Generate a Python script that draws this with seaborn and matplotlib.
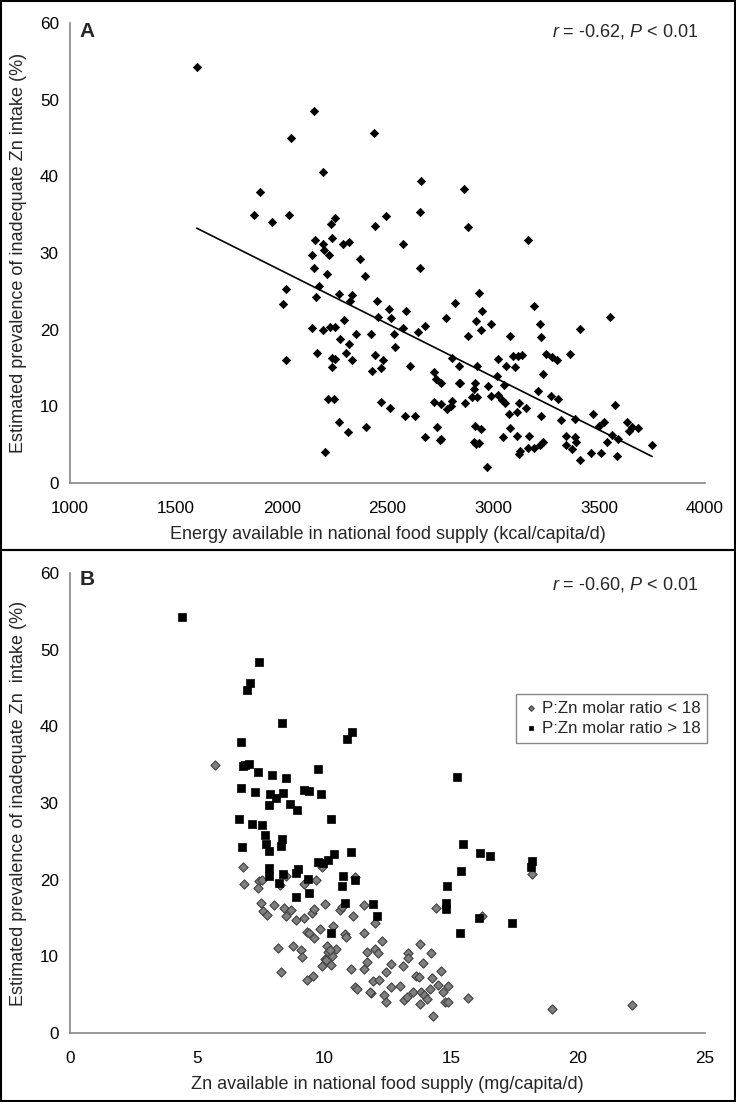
import numpy as np
import pandas as pd
import matplotlib.pyplot as plt
import seaborn as sns
from matplotlib.patches import Rectangle

# === Panel A data: energy supply vs prevalence ===
energy_kcal = [
    1599, 2151, 2434, 2043, 2196, 2659, 2860, 1897, 1870, 2037, 1955, 2494, 2653, 2250, 2231,
    2440, 2882, 3165, 2157, 2194, 2236, 2289, 2320, 2572, 2143, 2198, 2223, 2372, 2155, 2215,
    2393, 2653, 2176, 2019, 2164, 2269, 2331, 2322, 2006, 2450, 2934, 2818, 2508, 2457, 2587,
    2516, 3192, 2948, 2293, 2775, 2919, 2990, 2678, 2571, 2942, 3220, 3549, 2141, 2194, 2227,
    2254, 2533, 2643, 3408, 2421, 2349, 2277, 3223, 2882, 3081, 2318, 2537, 2302, 2166, 2019,
    2236, 2250, 2331, 2440, 2481, 2238, 2426, 2467, 2607, 2806, 2837, 2922, 3023, 3093, 3116,
    3136, 3062, 3103, 3250, 3277, 3302, 3362, 3235, 2722, 2727, 2754, 2837, 2843, 2913, 2977,
    3016, 3052, 2909, 3212, 3271, 3304, 2924, 2990, 3023, 2899, 3042, 2217, 2246, 2469, 2510,
    2722, 2754, 2806, 2802, 2783, 2868, 3054, 3120, 3153, 3114, 3074, 3573, 3225, 3384, 3471,
    3322, 2582, 2632, 3525, 3630, 3498, 3654, 3685, 3640, 2271, 2397, 2734, 2913, 2942, 2314,
    3077, 2678, 2749, 2752, 3046, 3114, 3170, 3341, 3384, 3391, 3562, 3589, 3539, 3750, 2907,
    2934, 2920, 3341, 3374, 3235, 3219, 3194, 3165, 3126, 3120, 3461, 3508, 3583, 3409, 2205,
    2968,
]
prevalence_a = [
    54.2, 48.5, 45.7, 45.0, 40.6, 39.4, 38.3, 38.0, 35.0, 34.9, 34.1, 34.8, 35.3, 34.6, 33.8,
    33.5, 33.4, 31.7, 31.7, 31.2, 32.0, 31.2, 31.4, 31.2, 29.8, 30.4, 29.8, 29.2, 28.0, 27.3,
    27.0, 28.0, 25.7, 25.3, 24.3, 24.6, 24.5, 23.7, 23.3, 23.7, 24.8, 23.5, 22.7, 21.6, 22.5,
    21.5, 23.1, 22.4, 21.3, 21.5, 21.1, 20.8, 20.5, 20.2, 20.0, 20.7, 21.7, 20.2, 19.9, 20.4,
    20.4, 19.5, 19.7, 20.1, 19.4, 19.4, 18.8, 19.1, 19.2, 19.2, 18.1, 17.8, 16.9, 16.9, 16.1,
    16.3, 16.2, 16.0, 16.7, 16.0, 15.1, 14.6, 15.0, 15.3, 16.3, 15.2, 15.3, 16.2, 16.6, 16.6,
    16.7, 15.3, 15.1, 16.8, 16.4, 16.1, 16.8, 14.2, 14.5, 13.6, 13.1, 13.1, 13.1, 13.1, 12.7,
    14.0, 12.8, 12.3, 12.0, 11.3, 11.0, 11.2, 11.3, 11.5, 11.2, 10.8, 10.9, 10.9, 10.6, 9.8,
    10.6, 10.3, 10.7, 10.0, 9.6, 10.5, 10.5, 10.4, 9.8, 9.2, 9.0, 10.2, 8.7, 8.3, 9.0,
    8.2, 8.8, 8.8, 8.0, 8.0, 7.4, 7.3, 7.2, 6.8, 7.9, 7.3, 7.3, 7.4, 7.0, 6.7,
    7.2, 6.0, 5.6, 5.8, 6.0, 6.1, 6.1, 6.1, 6.0, 5.4, 6.2, 5.8, 5.4, 4.9, 5.4,
    5.2, 5.1, 5.0, 4.5, 5.3, 5.0, 4.6, 4.6, 4.2, 3.8, 3.9, 3.9, 3.5, 3.0, 4.0,
    2.1,
]

# === Panel B data: Zn supply vs prevalence, split by P:Zn molar ratio ===
zn_low = [
    5.69, 6.81, 6.84, 7.45, 7.54, 7.39, 9.93, 9.68, 9.20, 8.49, 8.25, 11.21, 18.20, 7.51, 8.03,
    7.58, 7.76, 8.42, 8.69, 8.49, 8.88, 9.20, 9.54, 9.61, 10.03, 10.63, 10.70, 11.58, 11.15, 11.99,
    14.41, 16.21, 9.34, 9.41, 9.85, 9.61, 10.36, 10.82, 11.58, 12.29, 8.17, 8.76, 9.10, 9.15, 10.10,
    10.17, 10.46, 10.32, 10.02, 9.92, 10.29, 10.85, 11.70, 12.00, 12.12, 11.68, 11.56, 11.05, 12.62, 13.11,
    13.29, 13.31, 13.79, 14.21, 13.89, 12.45, 11.92, 12.16, 11.85, 11.80, 12.36, 12.45, 12.63, 13.01, 13.14,
    13.28, 13.50, 13.63, 13.74, 13.77, 13.82, 13.94, 14.06, 14.19, 14.26, 14.31, 14.50, 14.62, 14.69, 14.75,
    14.87, 14.89, 15.65, 18.96, 22.11, 9.34, 9.56, 8.29, 11.22, 11.29, 10.24, 10.07,
]
prev_low = [
    34.9, 21.6, 19.5, 19.8, 19.9, 18.9, 21.7, 20.0, 19.5, 20.5, 19.3, 20.3, 20.8, 16.9, 16.7,
    15.9, 15.4, 16.3, 16.1, 15.3, 14.7, 15.0, 15.6, 16.2, 16.8, 16.1, 16.4, 16.7, 15.3, 14.4,
    16.3, 15.3, 13.2, 13.1, 13.6, 12.4, 14.0, 12.9, 13.0, 12.0, 11.1, 11.3, 10.8, 9.9, 11.3,
    10.6, 11.0, 10.1, 9.7, 8.8, 8.9, 12.5, 10.6, 10.9, 10.5, 9.3, 8.4, 8.4, 9.0, 8.7,
    10.4, 9.8, 11.6, 10.5, 9.1, 8.0, 6.8, 6.9, 5.2, 5.4, 5.0, 4.0, 6.0, 6.1, 4.3,
    4.7, 5.3, 7.5, 7.3, 3.8, 5.4, 5.0, 4.5, 5.8, 7.2, 2.2, 6.3, 8.1, 5.3, 4.1,
    6.1, 4.0, 4.6, 3.1, 3.6, 6.9, 7.4, 8.0, 6.0, 5.7, 10.8, 9.5,
]
zn_high = [
    4.40, 7.44, 7.08, 6.98, 8.35, 11.12, 10.90, 6.74, 7.05, 6.81, 6.90, 7.39, 9.75, 7.95, 8.49,
    15.23, 6.72, 7.30, 7.89, 8.39, 8.12, 9.20, 9.41, 9.88, 7.83, 8.68, 8.93, 6.66, 10.29, 7.18,
    7.57, 7.67, 8.35, 7.71, 8.32, 6.77, 7.83, 15.47, 11.07, 16.16, 16.52, 10.39, 9.78, 9.98, 10.15,
    18.20, 18.15, 7.83, 7.83, 8.39, 8.91, 8.98, 9.37, 10.75, 11.24, 15.40, 8.22, 10.70, 9.41, 14.86,
    8.88, 10.82, 11.92, 14.79, 14.79, 12.07, 16.11, 17.40, 10.29, 15.37,
]
prev_high = [
    54.2, 48.4, 45.6, 44.8, 40.5, 39.3, 38.3, 37.9, 35.1, 34.8, 34.9, 34.0, 34.4, 33.7, 33.3,
    33.4, 31.9, 31.4, 31.2, 31.3, 30.6, 31.7, 31.6, 31.2, 29.7, 29.9, 29.1, 27.9, 27.9, 27.2,
    27.1, 25.8, 25.3, 24.7, 24.4, 24.3, 23.8, 24.7, 23.6, 23.5, 23.1, 23.4, 22.3, 22.2, 22.6,
    22.4, 21.7, 21.5, 20.5, 20.7, 20.9, 21.4, 20.1, 20.5, 19.9, 21.1, 19.6, 19.2, 18.3, 19.2,
    17.7, 16.9, 16.8, 16.9, 16.2, 15.3, 15.0, 14.3, 13.1, 13.1,
]

df_a = pd.DataFrame({"energy": energy_kcal, "prev": prevalence_a})

# === Style ===
sns.set_style("white")
plt.rcParams['font.family'] = ['Liberation Sans', 'DejaVu Sans']
plt.rcParams['mathtext.fontset'] = 'custom'
plt.rcParams['mathtext.rm'] = 'Liberation Sans'
plt.rcParams['mathtext.it'] = 'Liberation Sans:italic'

W, H = 736, 1102
fig = plt.figure(figsize=(W / 100, H / 100), dpi=100)

def px_axes(left, top, right, bottom):
    return fig.add_axes([left / W, 1 - bottom / H, (right - left) / W, (bottom - top) / H])

ax_a = px_axes(70, 23, 705, 483)
ax_b = px_axes(70, 573, 705, 1033)

spine_col = "#888888"
tick_fs = 12.3
label_fs = 13

def style_axes(ax):
    for s in ["top", "right"]:
        ax.spines[s].set_visible(False)
    for s in ["left", "bottom"]:
        ax.spines[s].set_color(spine_col)
        ax.spines[s].set_linewidth(1.2)
    ax.tick_params(length=0, labelsize=tick_fs, colors="black")
    ax.tick_params(axis="y", pad=8)
    ax.tick_params(axis="x", pad=13)
    ax.set_ylim(0, 60)
    ax.set_yticks(range(0, 61, 10))

# --- Panel A ---
sns.scatterplot(data=df_a, x="energy", y="prev", marker="D", s=18,
                color="black", edgecolor="black", linewidth=0.5, ax=ax_a)
sns.regplot(data=df_a, x="energy", y="prev", scatter=False, ci=None, truncate=True,
            line_kws={"color": "black", "lw": 1.2}, ax=ax_a)
style_axes(ax_a)
ax_a.set_xlim(1000, 4000)
ax_a.set_xticks(range(1000, 4001, 500))
ax_a.set_xlabel("Energy available in national food supply (kcal/capita/d)", fontsize=label_fs, labelpad=7)
ax_a.set_ylabel("Estimated prevalence of inadequate Zn intake (%)", fontsize=label_fs, labelpad=9)
ax_a.text(0.027, 0.982, "A", transform=ax_a.transAxes, fontsize=15, fontweight="bold",
          ha="center", va="center")
ax_a.text(0.99, 0.982, r"$\it{r}$ = -0.62, $\it{P}$ < 0.01", transform=ax_a.transAxes,
          fontsize=label_fs, ha="right", va="center")

# --- Panel B ---
sns.scatterplot(x=zn_low, y=prev_low, marker="D", s=22, color="#7f7f7f",
                edgecolor="#404040", linewidth=0.8, ax=ax_b, label="P:Zn molar ratio < 18")
sns.scatterplot(x=zn_high, y=prev_high, marker="s", s=27, color="black",
                edgecolor="black", linewidth=0.5, ax=ax_b, label="P:Zn molar ratio > 18")
style_axes(ax_b)
ax_b.set_xlim(0, 25)
ax_b.set_xticks(range(0, 26, 5))
ax_b.set_xlabel("Zn available in national food supply (mg/capita/d)", fontsize=label_fs, labelpad=7)
ax_b.set_ylabel("Estimated prevalence of inadequate Zn  intake (%)", fontsize=label_fs, labelpad=9)
ax_b.text(0.027, 0.985, "B", transform=ax_b.transAxes, fontsize=15, fontweight="bold",
          ha="center", va="center")
ax_b.text(0.99, 0.974, r"$\it{r}$ = -0.60, $\it{P}$ < 0.01", transform=ax_b.transAxes,
          fontsize=label_fs, ha="right", va="center")
leg = ax_b.legend(loc="upper right", bbox_to_anchor=(1.003, 0.737), fontsize=12.2,
                  frameon=True, fancybox=False, framealpha=1, edgecolor=spine_col,
                  markerscale=0.6, handletextpad=0.1, handlelength=1.0, borderpad=0.4,
                  labelspacing=0.3, borderaxespad=0)
leg.get_frame().set_linewidth(1.0)

# === Panel frames ===
for top, bottom in [(1, 550), (550, 1101)]:
    fig.patches.append(Rectangle((1 / W, 1 - bottom / H), (W - 2) / W, (bottom - top) / H,
                                 transform=fig.transFigure, fill=False,
                                 edgecolor="black", linewidth=1.5))

fig.savefig("out.png", dpi=100)
